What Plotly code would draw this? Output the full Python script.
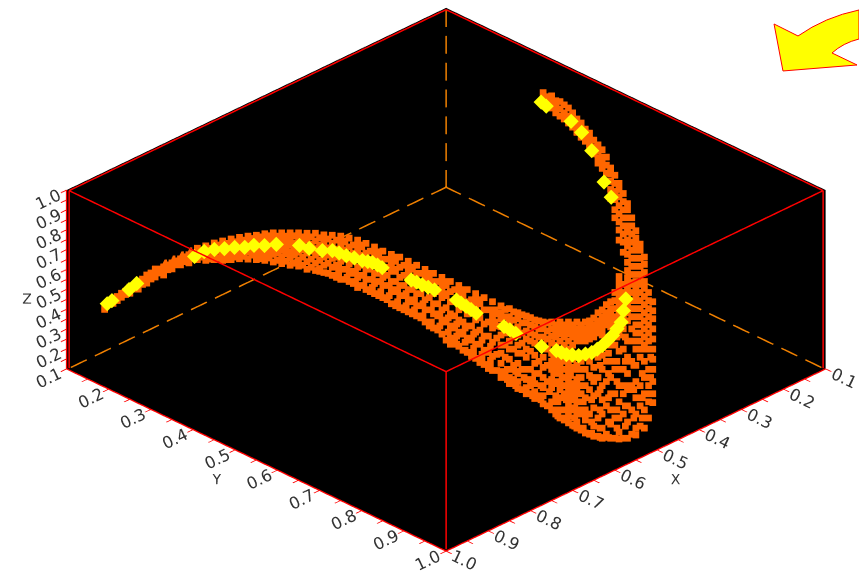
import plotly.graph_objects as go

tick_vals = [0.1,0.15,0.2,0.25,0.3,0.35,0.4,0.45,0.5,0.55,0.6,0.65,0.7,0.75,0.8,0.85,0.9,0.95,1.0]
tick_text = ["0.1","","0.2","","0.3","","0.4","","0.5","","0.6","","0.7","","0.8","","0.9","","1.0"]

yellow_x = [.987,.974,.926,.902,.816,.792,.775,.761,.746,.734,.718,.706,.689,.664,.660,.650,.638,.634,.627,.620,.621,.617,.616,.614,.613,.617,.622,.622,.625,.627,.472,.470,.458,.435,.405,.368,.325,.262,.215,.219,.227,.242,.275,.338,.367,
            .636,.630,.623,.620,.616,.615,.615,.619,.623,.471,.464,.446,.420,.386,.346,.294]
yellow_y = [.183,.181,.174,.168,.219,.218,.225,.235,.244,.256,.262,.275,.286,.316,.335,.356,.368,.397,.428,.445,.469,.534,.559,.586,.637,.664,.693,.759,.790,.853,.733,.755,.772,.780,.775,.762,.740,.688,.440,.456,.523,.563,.620,.712,.758,
            .382,.412,.437,.457,.546,.572,.650,.678,.774,.744,.763,.776,.778,.769,.751,.714]
yellow_z = [.5,.5,.5,.5]+[.6]*26+[.3]*8+[.99]*7+[.6]*9+[.3]*7

far_tip_z = 0.4
far_tip = [(-.405,[.54,.55]),(-.395,[.525,.535]),(-.385,[.51,.52]),(-.375,[.495,.505,.51]),(-.365,[.48,.49,.50]),
 (-.355,[.465,.475,.485]),(-.345,[.45,.46,.47]),(-.335,[.435,.445,.455,.465]),(-.325,[.425,.435,.445,.45]),
 (-.315,[.415,.425,.435,.44]),(-.305,[.405,.415,.425,.435]),
 (-.39,[.518,.528]),(-.38,[.505,.513]),(-.37,[.49,.5]),(-.36,[.475,.488]),(-.35,[.46,.475]),(-.34,[.45,.46]),(-.33,[.44,.452]),(-.32,[.43,.44]),(-.31,[.42,.432])]
ridge_z = 0.5
ridge = [(-.295,[.448,.462,.476]),(-.285,[.442,.455,.468,.478]),(-.275,[.435,.449,.461,.476]),(-.265,[.43,.443,.457,.47,.478]),
 (-.255,[.425,.44,.452,.465,.476]),(-.245,[.421,.434,.449,.461,.474]),(-.235,[.418,.431,.444,.458,.475]),
 (-.225,[.416,.43,.442,.455,.468,.476]),(-.215,[.412,.427,.44,.452,.466,.478]),(-.205,[.41,.423,.437,.451,.463,.482]),
 (-.195,[.41,.424,.44,.453,.47,.486]),(-.185,[.41,.426,.439,.456,.472,.49]),(-.175,[.41,.425,.442,.458,.477,.492]),
 (-.165,[.411,.427,.445,.46,.481,.5]),(-.155,[.411,.43,.449,.465,.485,.503]),(-.145,[.415,.431,.452,.47,.49,.508]),
 (-.135,[.416,.436,.458,.473,.495,.515]),(-.125,[.418,.44,.461,.48,.5,.525]),(-.115,[.423,.445,.465,.487,.51,.53]),
 (-.105,[.428,.45,.47,.495,.52,.545]),(-.095,[.436,.46,.48,.5,.525,.55]),(-.085,[.445,.465,.49,.51,.535,.56]),
 (-.075,[.455,.475,.5,.52,.54,.57]),(-.065,[.463,.485,.505,.53,.55,.585]),(-.055,[.47,.495,.52,.54,.565,.595]),
 (-.045,[.48,.505,.525,.55,.575,.605]),(-.035,[.49,.51,.535,.56,.59,.615]),(-.025,[.5,.52,.545,.575,.6,.63]),
 (-.015,[.51,.53,.56,.585,.61,.645]),(-.005,[.52,.545,.57,.6,.625,.66]),(.005,[.53,.555,.58,.61,.64,.67,.685]),
 (.015,[.54,.565,.6,.625,.655,.69]),(.025,[.55,.58,.61,.64,.67,.705]),(.035,[.56,.59,.625,.655,.685,.72]),
 (.045,[.57,.6,.635,.665,.7,.735]),(.055,[.58,.615,.645,.68,.715,.75]),
 (-.29,[.455,.47]),(-.28,[.448,.462,.475]),(-.27,[.44,.455,.472]),(-.26,[.436,.45,.463,.476]),(-.25,[.432,.446,.458,.47]),
 (-.24,[.428,.44,.455,.468]),(-.23,[.424,.437,.45,.465]),(-.22,[.42,.435,.448,.462,.474]),(-.21,[.417,.43,.445,.458,.472]),
 (-.20,[.418,.432,.447,.46,.478]),(-.19,[.418,.432,.448,.462,.48]),(-.18,[.417,.435,.45,.465,.485]),(-.17,[.42,.436,.452,.47,.49]),
 (-.16,[.42,.438,.455,.475,.495]),(-.15,[.422,.44,.46,.478,.498,.505]),(-.14,[.425,.447,.465,.485,.51]),(-.13,[.428,.45,.47,.49,.52]),
 (-.12,[.433,.455,.475,.5,.525]),(-.11,[.44,.46,.48,.505,.535]),(-.10,[.445,.47,.49,.515,.54]),(-.09,[.455,.475,.5,.525,.555]),
 (-.08,[.465,.485,.51,.53,.565]),(-.07,[.475,.495,.515,.54,.575]),(-.06,[.48,.505,.53,.555,.59]),(-.05,[.49,.515,.54,.565,.6]),
 (-.04,[.5,.525,.55,.58,.61]),(-.03,[.51,.535,.56,.59,.62]),(-.02,[.52,.55,.57,.6,.64]),(-.01,[.53,.555,.585,.615,.65]),
 (0.0,[.54,.565,.595,.63,.675]),(.01,[.55,.58,.615,.645,.68]),(.02,[.565,.595,.63,.66,.7]),(.03,[.575,.605,.64,.675,.715]),
 (.04,[.585,.62,.65,.685,.73]),(.05,[.6,.63,.665,.705,.745]),(.06,[.61,.64,.67,.71,.75]),
 (-.1275,[.495,.51]),(-.1175,[.5,.52]),(-.1075,[.51,.53]),(-.0975,[.515,.54]),(-.0875,[.525,.545]),(-.0775,[.53,.555]),
 (-.0675,[.54,.565]),(-.0575,[.55,.58]),(-.0475,[.56,.59]),(-.0375,[.575,.6]),(-.0275,[.585,.615]),(-.0175,[.6,.63]),
 (-.0075,[.61,.64]),(.0025,[.62,.655,.675]),(.0125,[.635,.665,.685]),(.0225,[.645,.68,.7]),(.0325,[.66,.695,.71]),
 (.0425,[.675,.71,.725]),(.0525,[.69,.725,.74]),
 (-.1225,[.43,.452]),(-.1025,[.44,.465]),(-.0825,[.457,.48]),(-.0625,[.47,.5]),(-.0425,[.495,.52]),(-.0225,[.51,.535]),
 (-.0025,[.53,.56]),(.0175,[.55,.585]),(.0375,[.575,.61]),(.0575,[.6,.63])]
bowl_z = 0.2
bowl = [(.065,[.443,.46,.475,.495,.515,.54,.56,.585,.605,.62]),(.075,[.45,.47,.485,.505,.53,.55,.575,.6,.62,.635]),
 (.085,[.46,.475,.495,.515,.54,.56,.585,.61,.63,.647]),(.095,[.468,.485,.505,.525,.55,.57,.6,.625,.645,.66]),
 (.105,[.478,.495,.515,.535,.565,.585,.61,.635,.655,.672]),(.115,[.483,.5,.52,.54,.57,.595,.62,.645,.665,.685]),
 (.125,[.483,.5,.518,.535,.56,.58,.6,.625,.645,.68,.7]),(.135,[.483,.497,.512,.53,.55,.57,.59,.61,.63,.65,.67,.7,.72]),
 (.145,[.483,.497,.512,.53,.55,.57,.585,.605,.625,.645,.665,.69,.715,.732]),(.155,[.483,.5,.515,.53,.565,.59,.625,.655,.68,.71,.73,.745]),
 (.165,[.483,.5,.515,.53,.57,.6,.64,.67,.7,.725,.757]),(.175,[.473,.49,.505,.52,.56,.595,.63,.665,.695,.74,.765]),
 (.185,[.453,.47,.485,.5,.515,.565,.6,.64,.675,.71,.745,.77]),(.195,[.433,.45,.465,.48,.495,.54,.58,.62,.66,.7,.735,.77]),
 (.205,[.395,.41,.425,.44,.455,.47,.515,.555,.6,.64,.68,.72,.755,.772]),(.215,[.385,.4,.415,.43,.445,.46,.48,.53,.57,.61,.65,.69,.73,.77]),
 (.225,[.383,.4,.415,.43,.45,.47,.49,.51,.55,.59,.63,.67,.71,.745,.762]),(.235,[.383,.4,.42,.44,.46,.48,.5,.52,.54,.58,.62,.66,.7,.745]),
 (.245,[.433,.455,.475,.5,.525,.55,.575,.6,.63,.66,.682]),
 (.07,[.452,.47,.49,.51,.54,.57,.61]),(.08,[.458,.478,.5,.52,.55,.59,.625]),(.09,[.465,.485,.51,.535,.56,.6,.65]),
 (.10,[.472,.49,.51,.53,.555,.6,.64,.66]),(.11,[.48,.5,.52,.54,.58,.61,.665]),(.12,[.485,.505,.525,.55,.59,.63,.69]),
 (.13,[.49,.505,.52,.54,.56,.58,.6,.635,.665,.71]),(.14,[.49,.505,.52,.54,.56,.58,.6,.62,.64,.66,.725]),
 (.15,[.49,.505,.52,.54,.575,.6,.64,.7,.738]),(.16,[.49,.505,.52,.53,.58,.62,.66,.7,.75]),
 (.17,[.48,.495,.51,.525,.58,.615,.65,.71,.76]),(.18,[.46,.48,.495,.51,.57,.62,.66,.72,.765]),
 (.19,[.44,.46,.475,.49,.53,.58,.63,.69,.76]),(.20,[.41,.43,.45,.47,.485,.54,.6,.66,.72,.77]),
 (.21,[.39,.41,.43,.45,.47,.5,.55,.6,.66,.71,.77]),(.22,[.39,.41,.43,.45,.47,.5,.53,.58,.64,.7,.76]),
 (.23,[.39,.41,.43,.45,.47,.49,.51,.53,.57,.64,.69,.74]),(.24,[.41,.43,.45,.47,.49,.51,.53,.55,.6,.64,.68,.72]),
 (.0725,[.6,.625]),(.0825,[.605,.64]),(.0925,[.62,.65]),(.1025,[.625,.665]),(.1125,[.64,.675]),(.1225,[.655,.69]),
 (.1325,[.68,.7,.715]),(.1425,[.675,.7,.72]),(.1525,[.67,.695,.72,.74]),(.1625,[.64,.68,.71,.745]),(.1725,[.62,.675,.73,.758]),
 (.1825,[.59,.65,.7,.745,.768]),(.1925,[.56,.61,.67,.73,.768]),(.2025,[.52,.58,.63,.7,.745]),(.2125,[.52,.58,.64,.69,.74]),
 (.2225,[.53,.59,.65,.72]),(.2325,[.55,.61,.67,.72]),(.2425,[.57,.62,.66]),
 (.1275,[.57,.59,.61,.63]),(.1375,[.58,.6,.62,.64]),(.1475,[.595,.615,.635,.655,.675]),(.1575,[.6,.62,.64,.66])]
upper_tail_z = 0.9
upper_tail = [(.115,[.26,.275,.285]),(.125,[.268,.282,.298]),(.135,[.282,.30,.318]),(.145,[.298,.318,.335]),(.155,[.325,.342,.358]),(.165,[.35,.366,.38]),
 (.12,[.27,.285]),(.13,[.28,.295,.31]),(.14,[.29,.31,.325]),(.15,[.31,.33,.345]),(.16,[.335,.355,.37]),(.17,[.36,.375,.39])]
lower_tail_z = 0.8
lower_tail = [(.175,[.328,.345,.362]),(.185,[.352,.37,.385,.398]),(.195,[.397,.412,.43,.45,.472]),
 (.205,[.435,.45,.468,.49,.51,.53,.55,.575,.665,.68]),(.215,[.485,.5,.52,.54,.555,.575,.59,.61,.63,.65,.668,.682]),
 (.225,[.552,.57,.585,.6,.62,.64,.66,.68]),(.235,[.617,.635,.655,.68]),
 (.18,[.34,.355,.372,.385]),(.19,[.37,.39,.41,.43]),(.20,[.415,.435,.455,.475,.5,.52]),(.21,[.46,.48,.5,.52,.54,.56,.58,.605]),
 (.22,[.52,.54,.56,.58,.6,.62,.64,.66,.68]),(.23,[.585,.6,.62,.64,.66,.68])]

orange_x, orange_y, orange_z = [], [], []
for level, columns in [(far_tip_z,far_tip),(ridge_z,ridge),(bowl_z,bowl),(upper_tail_z,upper_tail),(lower_tail_z,lower_tail)]:
    for e, hs in columns:
        for h in hs:
            orange_x.append(h-e); orange_y.append(h+e); orange_z.append(level)

floor_dashes = [.1,.138,None,.157,.195,None,.214,.252,None,.271,.309,None,.328,.366,None,.385,.423,None,.442,.48,None,.499,.537,None,.556,.594,None,.613,.651,None,.67,.708,None,.727,.765,None,.784,.822,None,.841,.879,None,.898,.936,None,.955,.993]
rise_dashes = [.1,.19,None,.235,.325,None,.37,.46,None,.505,.595,None,.64,.73,None,.775,.865,None,.91,.995]

fig = go.Figure()
fig.add_trace(go.Scatter3d(x=orange_x,y=orange_y,z=orange_z,mode="markers",marker=dict(color="#ff6600",size=3.5,symbol="square",line=dict(width=0))))
fig.add_trace(go.Scatter3d(x=yellow_x,y=yellow_y,z=yellow_z,mode="markers",marker=dict(color="#ffff00",size=5,symbol="diamond",line=dict(width=0))))

RED = dict(color="#ff0000",width=3)
fig.add_trace(go.Scatter3d(x=[.997,.997],y=[.103,.997],z=[.997,.997],mode="lines",line=RED))
fig.add_trace(go.Scatter3d(x=[.997,.103],y=[.997,.997],z=[.997,.997],mode="lines",line=RED))
fig.add_trace(go.Scatter3d(x=[.997,.103],y=[.103,.103],z=[.997,.997],mode="lines",line=RED))
fig.add_trace(go.Scatter3d(x=[.103,.103],y=[.103,.997],z=[.997,.997],mode="lines",line=RED))
fig.add_trace(go.Scatter3d(x=[.997,.997],y=[.997,.997],z=[.103,.997],mode="lines",line=RED))
fig.add_trace(go.Scatter3d(x=[.997,.997],y=[.103,.103],z=[.103,.997],mode="lines",line=RED))
fig.add_trace(go.Scatter3d(x=[.103,.103],y=[.997,.997],z=[.103,.997],mode="lines",line=RED))
DASH = dict(color="#f08000",width=3)
n = len(floor_dashes)
fig.add_trace(go.Scatter3d(x=floor_dashes,y=[.103]*n,z=[.103]*n,mode="lines",line=DASH,connectgaps=False))
fig.add_trace(go.Scatter3d(x=[.103]*n,y=floor_dashes,z=[.103]*n,mode="lines",line=DASH,connectgaps=False))
m = len(rise_dashes)
fig.add_trace(go.Scatter3d(x=[.103]*m,y=[.103]*m,z=rise_dashes,mode="lines",line=DASH,connectgaps=False))

def ax(title):
    return dict(title=dict(text=title,font=dict(family="DejaVu Sans",size=14,color="#333")),range=[0.1,1.0],
        tickmode="array",tickvals=tick_vals,ticktext=tick_text,tickfont=dict(family="DejaVu Sans",size=14,color="#333"),
        ticks="outside",ticklen=8,tickcolor="#ff0000",tickwidth=2,showgrid=False,zeroline=False,showspikes=False,
        showbackground=True,backgroundcolor="#000000",showline=True,linecolor="#ff0000",linewidth=3)

dx=0.0411; dz=-0.0241
fig.update_layout(width=859,height=571,margin=dict(l=0,r=0,t=0,b=0),showlegend=False,paper_bgcolor="white",
    scene=dict(domain=dict(x=[0,1],y=[0,1]),xaxis=ax("X"),yaxis=ax("Y"),zaxis=ax("Z"),
        aspectmode="manual",aspectratio=dict(x=1.88,y=1.88,z=0.714),
        camera=dict(projection=dict(type="orthographic"),eye=dict(x=3+dx,y=3-dx,z=2.322+dz),center=dict(x=dx,y=-dx,z=dz),up=dict(x=0,y=0,z=1))),
    shapes=[dict(type="path",xref="paper",yref="paper",layer="above",fillcolor="#ffff00",line=dict(color="#ff0000",width=1),
        path="M.9011,.9580 L.9290,.9370 Q.9604,.9702 1,.9825 L1,.9317 Q.9814,.9247 .9686,.9072 L.9977,.8862 L.9115,.8757 Z")])
fig.write_html("out.html",config={"displayModeBar":False},post_script="document.body.style.margin='0';document.body.style.overflow='hidden';")
